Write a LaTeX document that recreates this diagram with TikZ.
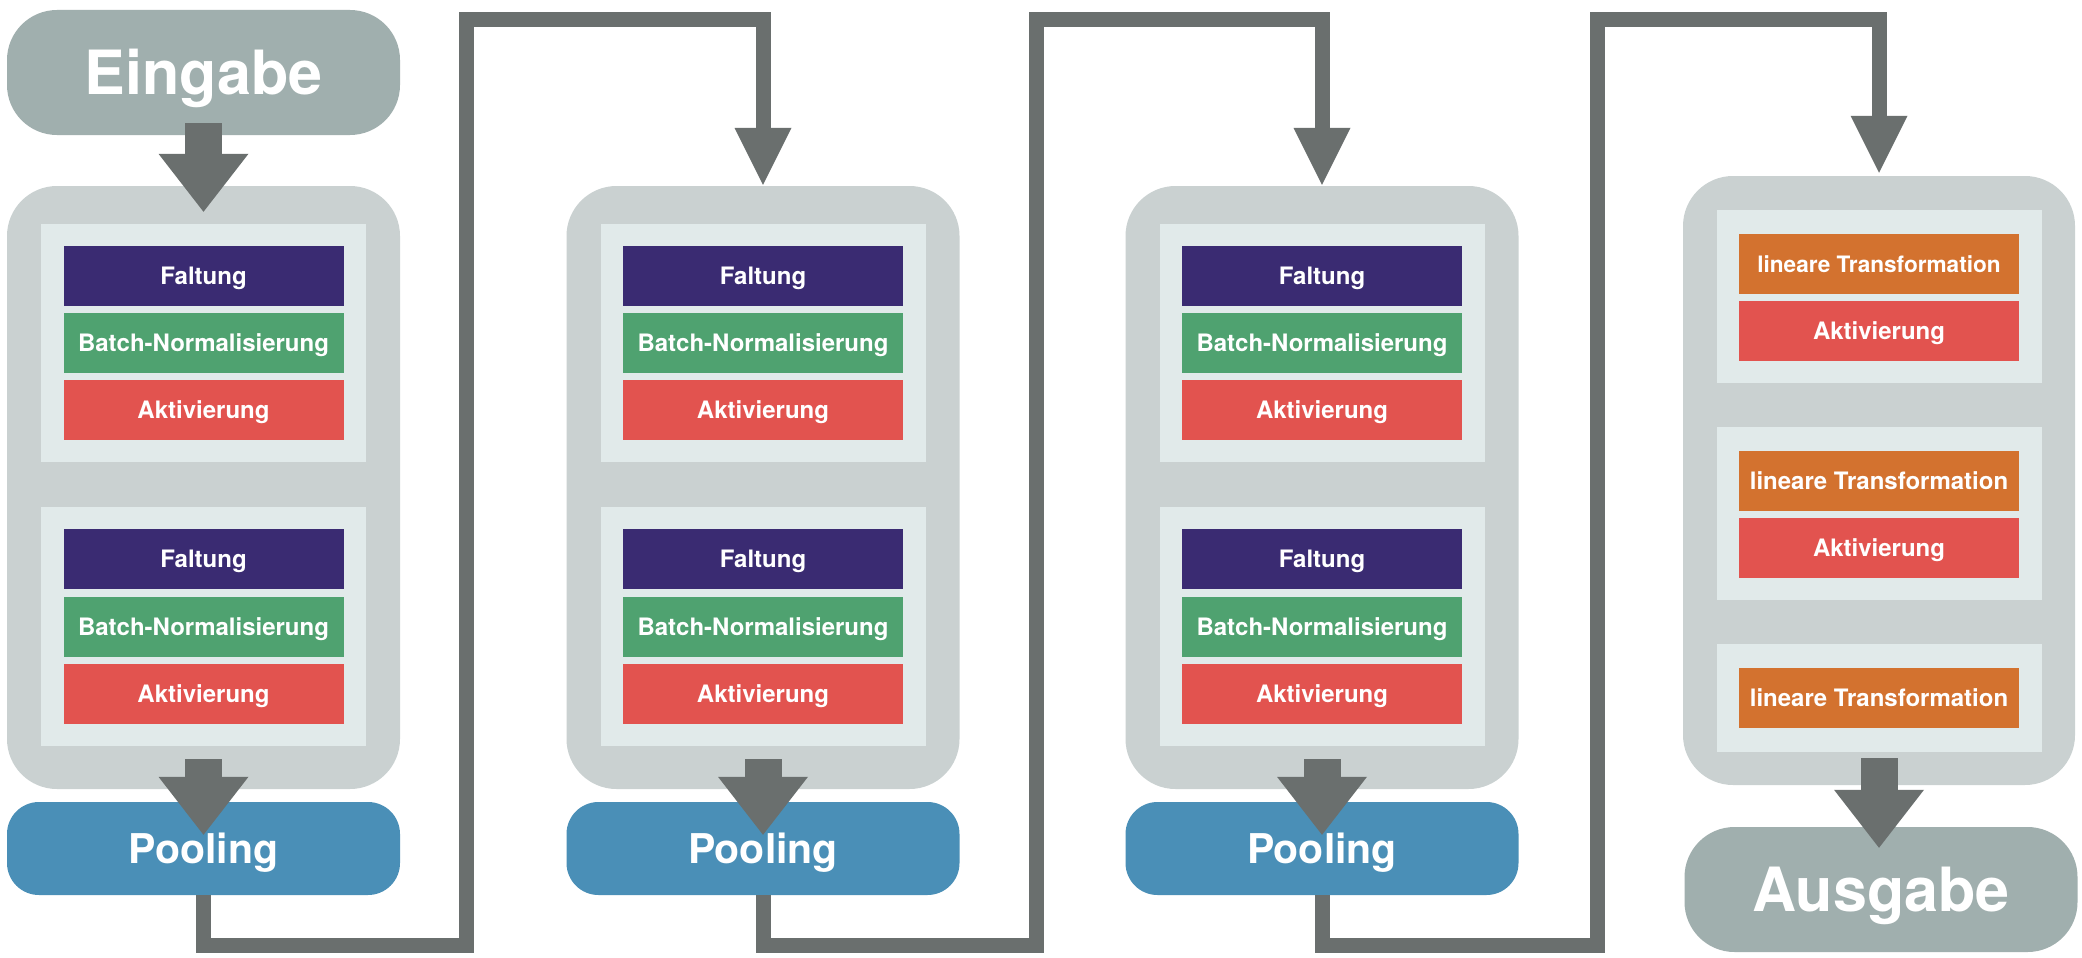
\documentclass[tikz,border=0pt]{standalone}
\usepackage{fontspec}
\setmainfont{TeX Gyre Heros}
\usetikzlibrary{arrows.meta,calc}
\definecolor{ioc}{HTML}{A0AFAE}
\definecolor{blockc}{HTML}{CAD1D1}
\definecolor{panelc}{HTML}{E1EAEA}
\definecolor{faltc}{HTML}{3A2B72}
\definecolor{batchc}{HTML}{4FA270}
\definecolor{aktc}{HTML}{E2534F}
\definecolor{linc}{HTML}{D3722F}
\definecolor{poolc}{HTML}{4A8FB7}
\definecolor{arrc}{HTML}{6A6F6E}
\tikzset{
  iobox/.style={fill=ioc, rounded corners=50pt, minimum width=393pt, minimum height=125pt, inner sep=0pt,
    text=white, font=\fontsize{61}{70}\selectfont\bfseries, text height=44pt, text depth=0pt},
  blockbox/.style={fill=blockc, rounded corners=50pt, minimum width=393pt, inner sep=0pt},
  panelbox/.style={fill=panelc, minimum width=325pt, inner sep=0pt},
  layerbox/.style={minimum width=280pt, minimum height=60pt, inner sep=0pt, text=white,
    font=\fontsize{24}{28}\selectfont\bfseries, text height=17.2pt, text depth=0pt},
  faltbox/.style={layerbox, fill=faltc},
  batchbox/.style={layerbox, fill=batchc},
  aktbox/.style={layerbox, fill=aktc},
  linbox/.style={layerbox, fill=linc},
  poolbox/.style={fill=poolc, rounded corners=32pt, minimum width=393pt, minimum height=93pt, inner sep=0pt,
    text=white, font=\fontsize{41}{48}\selectfont\bfseries, text height=29.5pt, text depth=0pt},
  bigarrow/.style={draw=arrc, line width=37pt, -{Triangle[width=90pt,length=58pt,line width=0pt]}},
  connarrow/.style={draw=arrc, line width=15pt, miter limit=10, -{Triangle[width=57pt,length=57pt,line width=0pt]}}
}
\begin{document}
\begin{tikzpicture}[x=1pt,y=-1pt]
\useasboundingbox[fill=white] (0,0) rectangle (2082,958);

% input
\node[iobox] (ein) at (203.5,72.5) {Eingabe};

% convolution columns
\foreach \c/\n in {203.5/1, 763/2, 1322/3}{
  \node[blockbox, minimum height=603pt] (b\n) at (\c,487.5) {};
  \node[panelbox, minimum height=238pt] (pa\n) at (\c,343) {};
  \node[panelbox, minimum height=239pt] (pb\n) at (\c,626.5) {};
  \node[faltbox]  (fa\n) at (\c,276) {Faltung};
  \node[batchbox] (ba\n) at (\c,343) {Batch-Normalisierung};
  \node[aktbox]   (aa\n) at (\c,410) {Aktivierung};
  \node[faltbox]  (fb\n) at (\c,559) {Faltung};
  \node[batchbox] (bb\n) at (\c,627) {Batch-Normalisierung};
  \node[aktbox]   (ab\n) at (\c,694) {Aktivierung};
  \node[poolbox]  (p\n) at (\c,848.5) {Pooling};
}

% dense column
\node[blockbox, minimum height=609pt, minimum width=392pt] (b4) at (1879,480.5) {};
\node[panelbox, minimum height=173pt] (qa) at (1879,296.5) {};
\node[panelbox, minimum height=173pt] (qb) at (1879,513.5) {};
\node[panelbox, minimum height=108pt] (qc) at (1879,698) {};
\node[linbox, font=\fontsize{22.6}{27}\selectfont\bfseries, text height=16.3pt] (l1) at (1879,264) {lineare Transformation};
\node[aktbox] (k1) at (1879,331) {Aktivierung};
\node[linbox] (l2) at (1879,481) {lineare Transformation};
\node[aktbox] (k2) at (1879,548) {Aktivierung};
\node[linbox] (l3) at (1879,698) {lineare Transformation};
\node[iobox] (aus) at (1881,889.5) {Ausgabe};

% big arrows
\draw[bigarrow] ([yshift=12pt]ein.south) -- ([yshift=-26pt]b1.north);
\draw[bigarrow] ([yshift=30pt]b1.south) -- ([yshift=-33pt]p1.north);
\draw[bigarrow] ([yshift=30pt]b2.south) -- ([yshift=-33pt]p2.north);
\draw[bigarrow] ([yshift=30pt]b3.south) -- ([yshift=-33pt]p3.north);
\draw[bigarrow] ([yshift=27pt]b4.south) -- ($(b4.south |- aus.north)+(0,21)$);

% connectors
\coordinate (r1b) at (466.5,945.5);
\coordinate (r1t) at (466.5,19.5);
\coordinate (r2b) at (1036.5,945.5);
\coordinate (r2t) at (1036.5,19.5);
\coordinate (r3b) at (1597.5,945.5);
\coordinate (r3t) at (1597.5,19.5);
\draw[connarrow] (p1.south) |- (r1b) -- (r1t) -| ([yshift=1pt]b2.north);
\draw[connarrow] (p2.south) |- (r2b) -- (r2t) -| ([yshift=1pt]b3.north);
\draw[connarrow] (p3.south) |- (r3b) -- (r3t) -| ([yshift=3pt]b4.north);
\end{tikzpicture}
\end{document}
